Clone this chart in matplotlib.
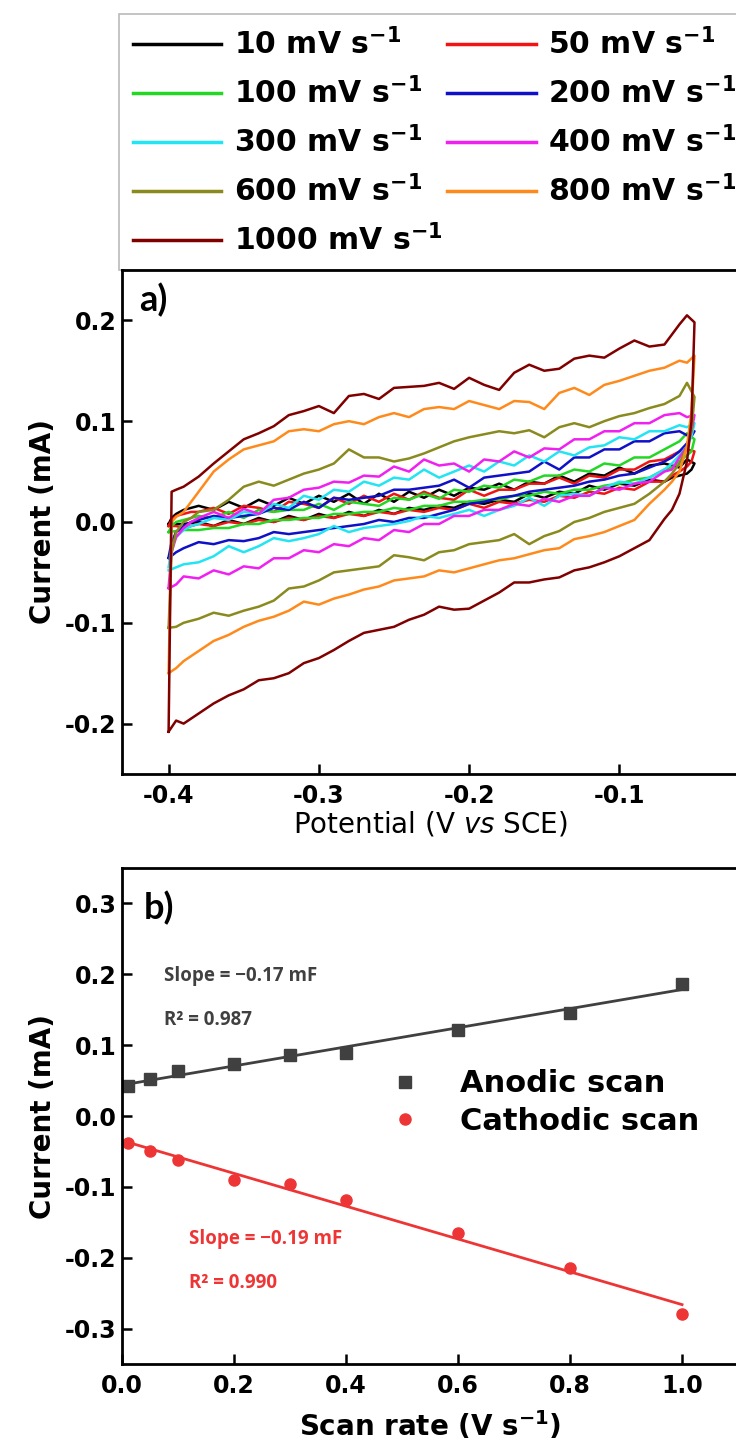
import matplotlib
matplotlib.use('Agg')
import matplotlib.pyplot as plt
import numpy as np

plt.rcParams['font.family'] = ['DejaVu Sans']
plt.rcParams['mathtext.fontset'] = 'dejavusans'
plt.rcParams['axes.unicode_minus'] = False

# ---- panel a: CV curves (potential in V, current in mA) ----
E_fwd = [-0.400, -0.398, -0.395, -0.390, -0.385, -0.380, -0.370, -0.360, -0.350, -0.340,
         -0.330, -0.320, -0.310, -0.300, -0.290, -0.280, -0.270, -0.260, -0.250, -0.240,
         -0.230, -0.220, -0.210, -0.200, -0.190, -0.180, -0.170, -0.160, -0.150, -0.140,
         -0.130, -0.120, -0.110, -0.100, -0.090, -0.080, -0.070, -0.060, -0.055, -0.050]
E_rev = [-0.052, -0.055, -0.060, -0.065, -0.070, -0.080, -0.090, -0.100, -0.110, -0.120,
         -0.130, -0.140, -0.150, -0.160, -0.170, -0.180, -0.190, -0.200, -0.210, -0.220,
         -0.230, -0.240, -0.250, -0.260, -0.270, -0.280, -0.290, -0.300, -0.310, -0.320,
         -0.330, -0.340, -0.350, -0.360, -0.370, -0.380, -0.390, -0.395, -0.400]

i10_fwd = [-0.002, 0.004, 0.008, 0.012, 0.014, 0.016, 0.012, 0.020, 0.014, 0.022,
           0.016, 0.024, 0.018, 0.026, 0.020, 0.028, 0.018, 0.028, 0.020, 0.030,
           0.024, 0.032, 0.026, 0.034, 0.032, 0.038, 0.032, 0.040, 0.038, 0.046,
           0.040, 0.048, 0.046, 0.054, 0.048, 0.056, 0.058, 0.054, 0.062, 0.058]
i10_rev = [0.052, 0.048, 0.046, 0.044, 0.040, 0.042, 0.036, 0.038, 0.032, 0.036,
           0.028, 0.030, 0.024, 0.028, 0.020, 0.022, 0.018, 0.020, 0.014, 0.016,
           0.012, 0.014, 0.008, 0.012, 0.006, 0.010, 0.004, 0.008, 0.002, 0.006,
           0.000, 0.004, -0.002, 0.002, -0.004, 0.000, -0.002, -0.002, -0.002]

i50_fwd = [-0.004, 0.002, 0.006, 0.008, 0.010, 0.010, 0.014, 0.008, 0.016, 0.014,
           0.010, 0.020, 0.018, 0.014, 0.024, 0.018, 0.026, 0.020, 0.028, 0.022,
           0.030, 0.024, 0.022, 0.032, 0.026, 0.032, 0.032, 0.038, 0.038, 0.044,
           0.038, 0.046, 0.044, 0.052, 0.052, 0.060, 0.062, 0.070, 0.072, 0.070]
i50_rev = [0.060, 0.055, 0.050, 0.046, 0.040, 0.040, 0.032, 0.034, 0.028, 0.030,
           0.024, 0.026, 0.020, 0.022, 0.018, 0.020, 0.014, 0.018, 0.012, 0.014,
           0.010, 0.012, 0.008, 0.010, 0.006, 0.008, 0.004, 0.006, 0.002, 0.004,
           0.000, 0.002, -0.002, 0.000, -0.004, -0.002, -0.006, -0.004, -0.004]

i100_fwd = [-0.010, -0.004, 0.000, 0.002, 0.004, 0.006, 0.004, 0.010, 0.004, 0.012,
            0.010, 0.012, 0.012, 0.018, 0.012, 0.020, 0.018, 0.016, 0.024, 0.022,
            0.028, 0.023, 0.032, 0.030, 0.036, 0.034, 0.042, 0.040, 0.046, 0.046,
            0.052, 0.050, 0.058, 0.056, 0.064, 0.064, 0.072, 0.080, 0.088, 0.082]
i100_rev = [0.070, 0.066, 0.060, 0.054, 0.052, 0.044, 0.042, 0.038, 0.036, 0.032,
            0.032, 0.028, 0.030, 0.026, 0.026, 0.022, 0.022, 0.020, 0.020, 0.016,
            0.016, 0.012, 0.014, 0.010, 0.010, 0.008, 0.008, 0.004, 0.004, 0.002,
            0.002, -0.002, -0.002, -0.006, -0.006, -0.008, -0.008, -0.009, -0.010]

i200_fwd = [-0.035, -0.020, -0.010, -0.004, 0.000, 0.002, 0.006, 0.004, 0.006, 0.008,
            0.014, 0.012, 0.020, 0.014, 0.024, 0.022, 0.024, 0.026, 0.032, 0.032,
            0.034, 0.036, 0.042, 0.034, 0.044, 0.046, 0.048, 0.050, 0.060, 0.052,
            0.064, 0.064, 0.072, 0.072, 0.080, 0.080, 0.088, 0.090, 0.086, 0.090]
i200_rev = [0.085, 0.078, 0.070, 0.064, 0.060, 0.054, 0.048, 0.046, 0.042, 0.040,
            0.036, 0.034, 0.032, 0.030, 0.026, 0.024, 0.020, 0.018, 0.012, 0.008,
            0.004, 0.004, 0.000, 0.002, -0.002, -0.004, -0.006, -0.008, -0.010, -0.012,
            -0.010, -0.016, -0.019, -0.018, -0.022, -0.020, -0.026, -0.030, -0.036]

i300_fwd = [-0.045, -0.025, -0.015, -0.008, -0.004, -0.002, 0.004, 0.002, 0.010, 0.008,
            0.018, 0.014, 0.026, 0.022, 0.032, 0.030, 0.040, 0.036, 0.044, 0.042,
            0.052, 0.044, 0.050, 0.056, 0.050, 0.060, 0.056, 0.066, 0.060, 0.070,
            0.066, 0.074, 0.076, 0.084, 0.082, 0.090, 0.090, 0.096, 0.094, 0.098]
i300_rev = [0.085, 0.075, 0.066, 0.058, 0.052, 0.044, 0.038, 0.040, 0.034, 0.026,
            0.028, 0.026, 0.016, 0.024, 0.016, 0.012, 0.006, 0.012, 0.008, 0.004,
            0.006, 0.001, -0.002, -0.004, -0.006, -0.010, -0.004, -0.012, -0.016, -0.019,
            -0.016, -0.024, -0.030, -0.024, -0.034, -0.040, -0.042, -0.045, -0.048]

i400_fwd = [-0.065, -0.030, -0.015, -0.006, 0.000, 0.004, 0.010, 0.004, 0.013, 0.008,
            0.022, 0.024, 0.032, 0.034, 0.040, 0.039, 0.046, 0.045, 0.055, 0.050,
            0.062, 0.056, 0.058, 0.050, 0.062, 0.060, 0.070, 0.064, 0.073, 0.072,
            0.082, 0.082, 0.090, 0.090, 0.098, 0.098, 0.106, 0.108, 0.104, 0.106]
i400_rev = [0.090, 0.075, 0.064, 0.052, 0.050, 0.040, 0.038, 0.032, 0.034, 0.026,
            0.026, 0.020, 0.023, 0.016, 0.018, 0.012, 0.012, 0.006, 0.006, -0.002,
            -0.002, -0.010, -0.008, -0.018, -0.016, -0.024, -0.022, -0.030, -0.028, -0.036,
            -0.036, -0.046, -0.044, -0.052, -0.048, -0.056, -0.054, -0.062, -0.066]

i600_fwd = [-0.105, -0.030, -0.010, 0.000, 0.004, 0.010, 0.012, 0.022, 0.035, 0.040,
            0.036, 0.042, 0.048, 0.052, 0.058, 0.072, 0.064, 0.064, 0.060, 0.063,
            0.068, 0.074, 0.080, 0.084, 0.087, 0.090, 0.088, 0.091, 0.084, 0.094,
            0.098, 0.094, 0.100, 0.105, 0.108, 0.113, 0.117, 0.125, 0.138, 0.124]
i600_rev = [0.090, 0.075, 0.058, 0.048, 0.040, 0.028, 0.018, 0.014, 0.010, 0.004,
            0.000, -0.009, -0.014, -0.022, -0.012, -0.018, -0.020, -0.022, -0.028, -0.030,
            -0.038, -0.035, -0.033, -0.044, -0.046, -0.048, -0.050, -0.058, -0.064, -0.066,
            -0.078, -0.084, -0.088, -0.093, -0.090, -0.096, -0.100, -0.104, -0.105]

i800_fwd = [-0.150, 0.000, 0.005, 0.010, 0.020, 0.030, 0.050, 0.062, 0.072, 0.076,
            0.080, 0.090, 0.092, 0.090, 0.097, 0.100, 0.097, 0.104, 0.108, 0.104,
            0.112, 0.114, 0.112, 0.120, 0.116, 0.112, 0.120, 0.119, 0.112, 0.128,
            0.133, 0.126, 0.136, 0.140, 0.145, 0.150, 0.153, 0.160, 0.158, 0.165]
i800_rev = [0.110, 0.075, 0.050, 0.040, 0.032, 0.018, 0.002, -0.004, -0.010, -0.014,
            -0.017, -0.026, -0.028, -0.032, -0.036, -0.038, -0.042, -0.046, -0.050, -0.048,
            -0.054, -0.056, -0.058, -0.064, -0.067, -0.072, -0.076, -0.082, -0.079, -0.088,
            -0.094, -0.098, -0.104, -0.112, -0.118, -0.128, -0.138, -0.145, -0.150]

i1000_fwd = [-0.208, 0.030, 0.032, 0.035, 0.040, 0.045, 0.058, 0.070, 0.082, 0.088,
             0.095, 0.106, 0.110, 0.115, 0.108, 0.125, 0.127, 0.122, 0.133, 0.134,
             0.135, 0.138, 0.132, 0.143, 0.136, 0.131, 0.148, 0.156, 0.150, 0.152,
             0.162, 0.165, 0.163, 0.172, 0.180, 0.174, 0.176, 0.196, 0.205, 0.198]
i1000_rev = [0.100, 0.060, 0.028, 0.012, 0.003, -0.018, -0.026, -0.034, -0.040, -0.045,
             -0.048, -0.055, -0.057, -0.060, -0.060, -0.070, -0.078, -0.086, -0.087, -0.084,
             -0.092, -0.097, -0.104, -0.107, -0.110, -0.118, -0.127, -0.135, -0.140, -0.150,
             -0.155, -0.157, -0.166, -0.172, -0.180, -0.190, -0.200, -0.197, -0.208]

rate_labels = ['10', '50', '100', '200', '300', '400', '600', '800', '1000']
curves = [(i10_fwd, i10_rev), (i50_fwd, i50_rev), (i100_fwd, i100_rev), (i200_fwd, i200_rev),
          (i300_fwd, i300_rev), (i400_fwd, i400_rev), (i600_fwd, i600_rev),
          (i800_fwd, i800_rev), (i1000_fwd, i1000_rev)]
colors = ['#000000', '#F01414', '#22D822', '#1010C8', '#22E4F2', '#F020F0',
          '#8A8A1E', '#FF8A1C', '#800000']

# ---- panel b: peak current vs scan rate ----
scan_rate = [0.01, 0.05, 0.1, 0.2, 0.3, 0.4, 0.6, 0.8, 1.0]
anodic = [0.042, 0.052, 0.063, 0.074, 0.086, 0.089, 0.122, 0.145, 0.187]
cathodic = [-0.038, -0.050, -0.062, -0.090, -0.096, -0.118, -0.165, -0.215, -0.279]

GREY = '#404040'
RED = '#EE3535'
TICK_FS = 17
LAB_FS = 20

fig = plt.figure(figsize=(7.36, 14.56), dpi=100)
ax1 = fig.add_axes([0.1658, 0.4684, 0.8370, 0.3462])
ax2 = fig.add_axes([0.1658, 0.0632, 0.8370, 0.3406])

handles = []
for lab, (fwd, rev), c in zip(rate_labels, curves, colors):
    ln, = ax1.plot(E_fwd + E_rev, fwd + rev, color=c, lw=1.8,
                   label=lab + r' mV s$^{\mathbf{-1}}$')
    handles.append(ln)

ax1.set_xlim(-0.431, -0.021)
ax1.set_ylim(-0.25, 0.25)
ax1.set_xticks([-0.4, -0.3, -0.2, -0.1])
ax1.set_yticks([-0.2, -0.1, 0.0, 0.1, 0.2])
ax1.set_xlabel(r'Potential (V $\it{vs}$ SCE)', fontsize=LAB_FS, labelpad=1)
ax1.set_ylabel('Current (mA)', fontsize=LAB_FS, fontweight='bold', labelpad=6)
ax1.text(0.028, 0.975, 'a)', transform=ax1.transAxes, fontsize=26, fontweight='bold',
         family='Lato', va='top', ha='left')

# legend sits right on top of panel a; columns: 10,100,300,600,1000 | 50,200,400,800
order = [0, 2, 4, 6, 8, 1, 3, 5, 7]
leg = ax1.legend([handles[k] for k in order], [handles[k].get_label() for k in order],
                 loc='lower left', bbox_to_anchor=(-0.005, 1.0), ncol=2,
                 prop={'weight': 'bold', 'size': 21.5}, frameon=True,
                 fancybox=False, edgecolor='#A8A8A8', handlelength=2.95,
                 handletextpad=0.43, columnspacing=0.17, labelspacing=0.55,
                 borderpad=0.46, borderaxespad=0)
leg.get_frame().set_linewidth(1.2)
leg.set_zorder(1)
for h in leg.legend_handles:
    h.set_linewidth(2.5)

ax2.plot(scan_rate, anodic, 's', color=GREY, ms=8, label='Anodic scan')
ax2.plot(scan_rate, cathodic, 'o', color=RED, ms=8, label='Cathodic scan')
pa = np.polyfit(scan_rate, anodic, 1)
pc = np.polyfit(scan_rate, cathodic, 1)
xs = np.array([scan_rate[0], scan_rate[-1]])
ax2.plot(xs, np.polyval(pa, xs), color=GREY, lw=2)
ax2.plot(xs, np.polyval(pc, xs), color=RED, lw=2)

ax2.set_xlim(0, 1.1)
ax2.set_ylim(-0.35, 0.35)
ax2.set_xticks([0.0, 0.2, 0.4, 0.6, 0.8, 1.0])
ax2.set_yticks([-0.3, -0.2, -0.1, 0.0, 0.1, 0.2, 0.3])
ax2.set_xlabel(r'Scan rate (V s$^{\mathbf{-1}}$)', fontsize=LAB_FS, fontweight='bold', labelpad=8)
ax2.set_ylabel('Current (mA)', fontsize=LAB_FS, fontweight='bold', labelpad=6)
ax2.text(0.035, 0.955, 'b)', transform=ax2.transAxes, fontsize=26, fontweight='bold',
         family='Lato', va='top', ha='left')
ax2.text(0.075, 0.198, 'Slope = \u22120.17 mF', color=GREY, fontsize=13.5,
         fontweight='bold', family='Open Sans', va='center')
ax2.text(0.075, 0.135, 'R\u00b2 = 0.987', color=GREY, fontsize=13.5,
         fontweight='bold', family='Open Sans', va='center')
ax2.text(0.12, -0.173, 'Slope = \u22120.19 mF', color=RED, fontsize=13.5,
         fontweight='bold', family='Open Sans', va='center')
ax2.text(0.12, -0.236, 'R\u00b2 = 0.990', color=RED, fontsize=13.5,
         fontweight='bold', family='Open Sans', va='center')
ax2.legend(loc='center left', bbox_to_anchor=(0.435, 0.527), frameon=False,
           prop={'weight': 'bold', 'size': 22}, handlelength=1.0, handletextpad=1.29,
           labelspacing=0.28, borderpad=0, borderaxespad=0)

for ax in (ax1, ax2):
    for s in ax.spines.values():
        s.set_linewidth(2)
    ax.tick_params(direction='in', length=7, width=1.8, labelsize=TICK_FS)
    ax.tick_params(axis='x', pad=7)
    ax.tick_params(axis='y', pad=4)
    for t in ax.get_xticklabels() + ax.get_yticklabels():
        t.set_fontweight('bold')

fig.savefig('out.png', dpi=100)
